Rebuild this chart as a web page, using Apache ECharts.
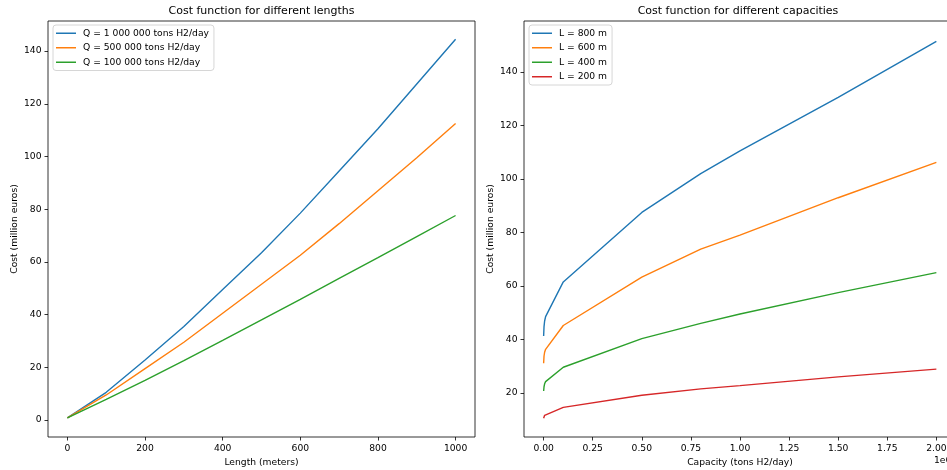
<!DOCTYPE html>
<html><head><meta charset="utf-8">
<script src="https://cdn.jsdelivr.net/npm/echarts@6/dist/echarts.min.js"></script>
<style>html,body{margin:0;padding:0;background:#fff}#c{width:947px;height:470px}</style>
</head><body><div id="c"></div>
<script>
// ---- Left chart data: cost vs length ----
const lengths = [0, 100, 200, 300, 400, 500, 600, 700, 800, 900, 1000];
const costQ1M   = [0.8, 10.5, 22.8, 35.5, 49.5, 63.5, 78.5, 94.5, 110.5, 127.5, 144.5];
const costQ500k = [0.8, 9.5, 19.5, 29.5, 40.5, 51.5, 62.5, 74.5, 87.0, 99.5, 112.5];
const costQ100k = [0.8, 7.8, 15.0, 22.5, 30.2, 38.0, 45.8, 53.7, 61.6, 69.6, 77.6];
const leftNames = ['Q = 1 000 000 tons H2/day', 'Q = 500 000 tons H2/day', 'Q = 100 000 tons H2/day'];

// ---- Right chart data: cost vs capacity ----
const capacities = [0, 2000, 5000, 10000, 100000, 500000, 800000, 1000000, 1500000, 2000000];
const costL800 = [41.3, 44.8, 46.9, 48.5, 61.5, 87.5, 102.0, 110.5, 130.5, 151.5];
const costL600 = [31.1, 33.8, 35.2, 36.3, 45.2, 63.3, 73.8, 79.0, 93.0, 106.2];
const costL400 = [20.7, 22.3, 23.4, 24.2, 29.6, 40.3, 46.0, 49.5, 57.5, 65.0];
const costL200 = [10.5, 11.2, 11.6, 12.0, 14.6, 19.1, 21.5, 22.7, 26.0, 28.9];
const rightNames = ['L = 800 m', 'L = 600 m', 'L = 400 m', 'L = 200 m'];

// ---- Tick values / labels ----
const leftXTicks = [0, 200, 400, 600, 800, 1000];
const leftYTicks = [0, 20, 40, 60, 80, 100, 120, 140];
const rightXTicks = [0, 250000, 500000, 750000, 1000000, 1250000, 1500000, 1750000, 2000000];
const rightXLabels = ['0.00', '0.25', '0.50', '0.75', '1.00', '1.25', '1.50', '1.75', '2.00'];
const rightYTicks = [20, 40, 60, 80, 100, 120, 140];

const colors = ['#1f77b4', '#ff7f0e', '#2ca02c', '#d62728'];
const FONT = 'DejaVu Sans';
const FS = 9.2;

function pairs(xs, ys) { return xs.map((x, i) => [x, ys[i]]); }

function xAxisCfg(gridIndex, min, max, ticks, name, formatter) {
  return {
    type: 'value', gridIndex, min, max, position: 'bottom',
    name, nameLocation: 'middle', nameGap: 20,
    nameTextStyle: { fontFamily: FONT, fontSize: FS, color: '#000' },
    axisLine: { show: false, onZero: false },
    axisTick: { show: true, length: 3.5, lineStyle: { color: '#000', width: 0.8 }, customValues: ticks },
    axisLabel: { show: true, margin: 7.5, fontFamily: FONT, fontSize: FS, color: '#000', customValues: ticks,
                 formatter: formatter || (v => String(v)) },
    splitLine: { show: false }
  };
}
function yAxisCfg(gridIndex, min, max, ticks, name) {
  return {
    type: 'value', gridIndex, min, max, position: 'left',
    name, nameLocation: 'middle', nameGap: 29, nameRotate: 90,
    nameTextStyle: { fontFamily: FONT, fontSize: FS, color: '#000' },
    axisLine: { show: false, onZero: false },
    axisTick: { show: true, length: 3.5, lineStyle: { color: '#000', width: 0.8 }, customValues: ticks },
    axisLabel: { show: true, margin: 6.5, fontFamily: FONT, fontSize: FS, color: '#000', customValues: ticks,
                 formatter: v => String(v) },
    splitLine: { show: false }
  };
}
function lineSeries(name, data, color, xi, yi) {
  return {
    type: 'line', name, data, xAxisIndex: xi, yAxisIndex: yi,
    showSymbol: false, symbol: 'none', smooth: false, animation: false,
    lineStyle: { color, width: 1.4 }, itemStyle: { color }
  };
}
function legendCfg(names, left, top) {
  return {
    data: names, orient: 'vertical', left, top,
    icon: 'rect', itemWidth: 20, itemHeight: 1.5, itemGap: 0,
    backgroundColor: 'rgba(255,255,255,0.8)', borderColor: '#cccccc', borderWidth: 0.8, borderRadius: 3,
    padding: [1, 5, 1, 3],
    textStyle: { fontFamily: FONT, fontSize: FS, color: '#000', lineHeight: 14.5, padding: [0, 0, 0, 2] },
    selectedMode: false
  };
}

const chart = echarts.init(document.getElementById('c'), null, { renderer: 'canvas' });
chart.setOption({
  animation: false,
  backgroundColor: '#fff',
  grid: [
    { left: 48, top: 21, width: 427, height: 416, outerBoundsMode: 'none', containLabel: false, show: true, borderColor: '#000', borderWidth: 0.8, backgroundColor: 'transparent' },
    { left: 524, top: 21, width: 432, height: 416, outerBoundsMode: 'none', containLabel: false, show: true, borderColor: '#000', borderWidth: 0.8, backgroundColor: 'transparent' }
  ],
  xAxis: [
    xAxisCfg(0, -50, 1050, leftXTicks, 'Length (meters)'),
    xAxisCfg(1, -100000, 2100000, rightXTicks, 'Capacity (tons H2/day)', v => {
      const i = rightXTicks.indexOf(v); return i >= 0 ? rightXLabels[i] : '';
    })
  ],
  yAxis: [
    yAxisCfg(0, -6.45, 151.4, leftYTicks, 'Cost (million euros)'),
    yAxisCfg(1, 3.5, 159.1, rightYTicks, 'Cost (million euros)')
  ],
  legend: [
    legendCfg(leftNames, 53, 25),
    legendCfg(rightNames, 529, 25)
  ],
  graphic: [
    { type: 'text', x: 261.5, y: 11, style: { text: 'Cost function for different lengths', font: '11px "DejaVu Sans"', fill: '#000', align: 'center', verticalAlign: 'middle', textAlign: 'center', textVerticalAlign: 'middle' } },
    { type: 'text', x: 738, y: 11, style: { text: 'Cost function for different capacities', font: '11px "DejaVu Sans"', fill: '#000', align: 'center', verticalAlign: 'middle', textAlign: 'center', textVerticalAlign: 'middle' } },
    { type: 'text', x: 934, y: 461, style: { text: '1e6', font: '9.2px "DejaVu Sans"', fill: '#000', align: 'left', verticalAlign: 'middle', textAlign: 'left', textVerticalAlign: 'middle' } }
  ],
  series: [
    lineSeries(leftNames[0], pairs(lengths, costQ1M), colors[0], 0, 0),
    lineSeries(leftNames[1], pairs(lengths, costQ500k), colors[1], 0, 0),
    lineSeries(leftNames[2], pairs(lengths, costQ100k), colors[2], 0, 0),
    lineSeries(rightNames[0], pairs(capacities, costL800), colors[0], 1, 1),
    lineSeries(rightNames[1], pairs(capacities, costL600), colors[1], 1, 1),
    lineSeries(rightNames[2], pairs(capacities, costL400), colors[2], 1, 1),
    lineSeries(rightNames[3], pairs(capacities, costL200), colors[3], 1, 1)
  ]
});
</script>
</body></html>
